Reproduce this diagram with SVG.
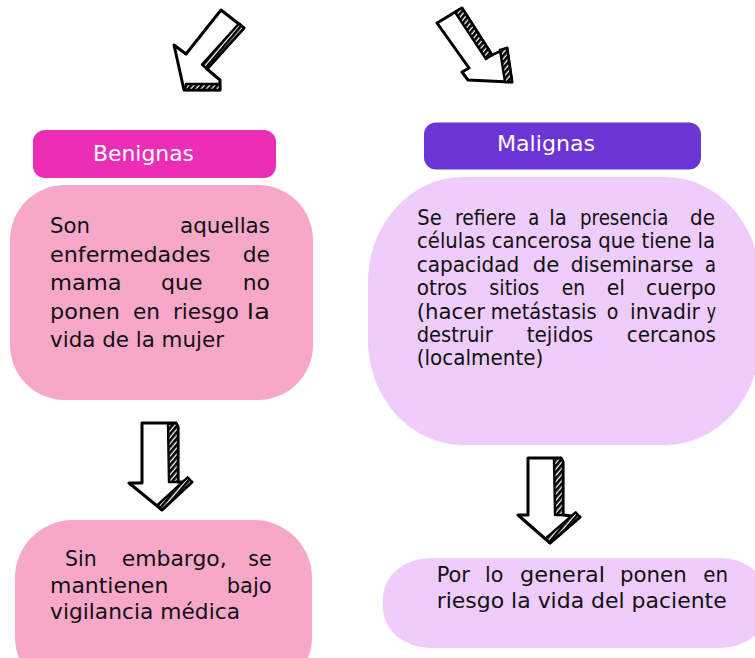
<svg xmlns="http://www.w3.org/2000/svg" width="755" height="658" viewBox="0 0 755 658">
<defs>
<pattern id="hatch" width="4" height="4" patternUnits="userSpaceOnUse" patternTransform="rotate(40)">
<rect width="4" height="4" fill="#fff"/>
<line x1="1.2" y1="0" x2="1.2" y2="4" stroke="#000" stroke-width="3"/>
</pattern>
</defs>
<style>
.t{font-family:"DejaVu Sans","Open Sans",sans-serif;font-size:21px;fill:#111;}
.h{font-family:"DejaVu Sans","Open Sans",sans-serif;font-size:21.5px;fill:#fff;}
.arr{fill:#fff;stroke:#000;stroke-width:3;stroke-linejoin:round;}
.band{fill:url(#hatch);stroke:#000;stroke-width:2.4;stroke-linejoin:round;}
</style>
<rect width="755" height="658" fill="#fff"/>

<g id="connectors">
<g id="arrow-top-left">
<path class="arr" d="M221,10 L244,28 L207,69 L220,80 L220,90 L184,90 L174,45 L186,54 Z"/>
<path class="band" d="M244,28 L207,69 L202,64.5 L239,23.5 Z"/>
<path class="band" d="M186,84 L220,84 L220,90 L185,90 Z"/>
</g>
<g id="arrow-top-right">
<path class="arr" d="M437,23 L462,8 L492,55 L507,48 L512,82 L468,80 L462,72 L469,68 Z"/>
<path class="band" d="M462,8 L492,55 L486,59 L455,12 Z"/>
<path class="band" d="M507,48 L512,82 L505,82 L500,50 Z"/>
</g>
<g id="arrow-left-down">
<path class="arr" d="M142,423 L176,423 L178,427 L178,482 L192,482 L162,510 L129,483 L142,483 Z"/>
<path class="band" d="M168,424 L176,423 L178,427 L178,482 L169,482 Z"/>
<path class="band" d="M192,482 L162,510 L157.6,505 L187.6,477.3 Z"/>
</g>
<g id="arrow-right-down">
<path class="arr" d="M528,458 L561,458 L563,462 L563,515 L580,517 L550,543 L518,515 L528,515 Z"/>
<path class="band" d="M554,459 L561,458 L563,462 L563,515 L555,515 Z"/>
<path class="band" d="M580,517 L550,543 L545.6,538.3 L575.6,512.3 Z"/>
</g>
</g>

<g id="benignas-header">
<rect x="33" y="130" width="243" height="48" rx="12" fill="#EC2DB5"/>
<text class="h" x="93" y="161" textLength="101" lengthAdjust="spacingAndGlyphs">Benignas</text>
</g>

<g id="benignas-desc">
<rect x="10" y="185" width="303" height="215" rx="55" fill="#F7A8C9"/>
<text class="t" x="50" y="233" textLength="40" lengthAdjust="spacingAndGlyphs">Son</text>
<text class="t" x="180" y="233" textLength="90" lengthAdjust="spacingAndGlyphs">aquellas</text>
<text class="t" x="50" y="261.5" textLength="160.7" lengthAdjust="spacingAndGlyphs">enfermedades</text>
<text class="t" x="242.7" y="261.5" textLength="27.3" lengthAdjust="spacingAndGlyphs">de</text>
<text class="t" x="50" y="290" textLength="71.7" lengthAdjust="spacingAndGlyphs">mama</text>
<text class="t" x="161" y="290" textLength="41.7" lengthAdjust="spacingAndGlyphs">que</text>
<text class="t" x="242.7" y="290" textLength="27.3" lengthAdjust="spacingAndGlyphs">no</text>
<text class="t" x="50" y="318.5" textLength="70" lengthAdjust="spacingAndGlyphs">ponen</text>
<text class="t" x="133" y="318.5" textLength="27" lengthAdjust="spacingAndGlyphs">en</text>
<text class="t" x="173" y="318.5" textLength="66" lengthAdjust="spacingAndGlyphs">riesgo</text>
<text class="t" x="246.7" y="318.5" textLength="23.3" lengthAdjust="spacingAndGlyphs">la</text>
<text class="t" x="50" y="347" textLength="174" lengthAdjust="spacingAndGlyphs">vida de la mujer</text>
</g>

<g id="benignas-nota">
<rect x="15" y="520" width="297" height="175" rx="58" fill="#F7A8C9"/>
<text class="t" x="65" y="566" textLength="31.7" lengthAdjust="spacingAndGlyphs">Sin</text>
<text class="t" x="121.7" y="566" textLength="105" lengthAdjust="spacingAndGlyphs">embargo,</text>
<text class="t" x="248.3" y="566" textLength="23.4" lengthAdjust="spacingAndGlyphs">se</text>
<text class="t" x="50" y="592.5" textLength="118.3" lengthAdjust="spacingAndGlyphs">mantienen</text>
<text class="t" x="226.7" y="592.5" textLength="45" lengthAdjust="spacingAndGlyphs">bajo</text>
<text class="t" x="50" y="618.5" textLength="190" lengthAdjust="spacingAndGlyphs">vigilancia médica</text>
</g>

<g id="malignas-header">
<rect x="424" y="122.5" width="277" height="47" rx="12" fill="#6B34D4"/>
<text class="h" x="497" y="150.5" textLength="98" lengthAdjust="spacingAndGlyphs">Malignas</text>
</g>

<g id="malignas-desc">
<rect x="368" y="177" width="392" height="268" rx="95" ry="105" fill="#EECCFB"/>
<text class="t" x="417.3" y="225" textLength="24.4" lengthAdjust="spacingAndGlyphs">Se</text>
<text class="t" x="455" y="225" textLength="61" lengthAdjust="spacingAndGlyphs">refiere</text>
<text class="t" x="528.3" y="225" textLength="11" lengthAdjust="spacingAndGlyphs">a</text>
<text class="t" x="549.3" y="225" textLength="17.4" lengthAdjust="spacingAndGlyphs">la</text>
<text class="t" x="580" y="225" textLength="88.3" lengthAdjust="spacingAndGlyphs">presencia</text>
<text class="t" x="690" y="225" textLength="25" lengthAdjust="spacingAndGlyphs">de</text>
<text class="t" x="417" y="248.4" textLength="298" lengthAdjust="spacingAndGlyphs">células cancerosa que tiene la</text>
<text class="t" x="416.7" y="271.8" textLength="102.6" lengthAdjust="spacingAndGlyphs">capacidad</text>
<text class="t" x="532.7" y="271.8" textLength="26.6" lengthAdjust="spacingAndGlyphs">de</text>
<text class="t" x="570.7" y="271.8" textLength="122.6" lengthAdjust="spacingAndGlyphs">diseminarse</text>
<text class="t" x="705" y="271.8" textLength="11" lengthAdjust="spacingAndGlyphs">a</text>
<text class="t" x="416.7" y="295.2" textLength="50.6" lengthAdjust="spacingAndGlyphs">otros</text>
<text class="t" x="489.3" y="295.2" textLength="50" lengthAdjust="spacingAndGlyphs">sitios</text>
<text class="t" x="561.7" y="295.2" textLength="23.3" lengthAdjust="spacingAndGlyphs">en</text>
<text class="t" x="606.7" y="295.2" textLength="18.3" lengthAdjust="spacingAndGlyphs">el</text>
<text class="t" x="646" y="295.2" textLength="70" lengthAdjust="spacingAndGlyphs">cuerpo</text>
<text class="t" x="416.7" y="318.6" textLength="68.3" lengthAdjust="spacingAndGlyphs">(hacer</text>
<text class="t" x="490.7" y="318.6" textLength="106" lengthAdjust="spacingAndGlyphs">metástasis</text>
<text class="t" x="606.7" y="318.6" textLength="11.6" lengthAdjust="spacingAndGlyphs">o</text>
<text class="t" x="630" y="318.6" textLength="70" lengthAdjust="spacingAndGlyphs">invadir</text>
<text class="t" x="706.7" y="318.6" textLength="9.3" lengthAdjust="spacingAndGlyphs">y</text>
<text class="t" x="416.7" y="342" textLength="76" lengthAdjust="spacingAndGlyphs">destruir</text>
<text class="t" x="526.7" y="342" textLength="66.6" lengthAdjust="spacingAndGlyphs">tejidos</text>
<text class="t" x="626.7" y="342" textLength="89.3" lengthAdjust="spacingAndGlyphs">cercanos</text>
<text class="t" x="416.7" y="365.4" textLength="126.6" lengthAdjust="spacingAndGlyphs">(localmente)</text>
</g>

<g id="malignas-nota">
<rect x="383" y="558" width="385" height="90" rx="48" ry="40" fill="#EECCFB"/>
<text class="t" x="436.7" y="581.5" textLength="33.3" lengthAdjust="spacingAndGlyphs">Por</text>
<text class="t" x="485" y="581.5" textLength="18.3" lengthAdjust="spacingAndGlyphs">lo</text>
<text class="t" x="520" y="581.5" textLength="85" lengthAdjust="spacingAndGlyphs">general</text>
<text class="t" x="620" y="581.5" textLength="66.7" lengthAdjust="spacingAndGlyphs">ponen</text>
<text class="t" x="703.3" y="581.5" textLength="24.7" lengthAdjust="spacingAndGlyphs">en</text>
<text class="t" x="436.7" y="608" textLength="290" lengthAdjust="spacingAndGlyphs">riesgo la vida del paciente</text>
</g>
</svg>
